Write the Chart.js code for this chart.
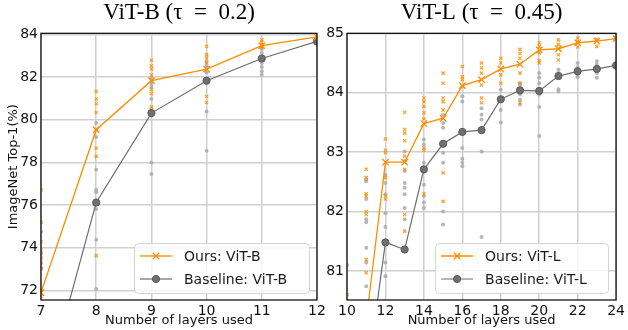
<!DOCTYPE html>
<html>
<head>
<meta charset="utf-8">
<script src="https://cdn.jsdelivr.net/npm/chart.js@4.4.1/dist/chart.umd.min.js"></script>
<style>
  html, body { margin: 0; padding: 0; background: #fff; }
  #wrap { position: relative; width: 628px; height: 330px; }
  #wrap canvas { position: absolute; left: 0; top: 0; }
</style>
</head>
<body>
<div id="wrap">
  <canvas id="chart-b" width="628" height="330"></canvas>
  <canvas id="chart-l" width="628" height="330"></canvas>
</div>
<script>
// ViT-B, tau = 0.2
const layersB = [7, 8, 9, 10, 11, 12];
const oursB = [71.9, 79.53, 81.83, 82.37, 83.47, 83.88];
const baseB = [66.6, 76.12, 80.31, 81.83, 82.87, 83.67];
const runLayersB = [7, 8, 9, 10, 11, 12];
const oursRunsB = [
  [76.72, 75.19, 74.28, 73.87, 73.5, 73.03, 72.03, 71.72],
  [81.33, 80.97, 80.75, 80.34, 78.66, 78.28, 73.63],
  [82.79, 82.53, 82.38, 82.11, 81.41, 81.22, 80.6, 80.47],
  [83.44, 83.05, 82.89, 82.66, 81.09, 80.81],
  [83.75, 83.63, 83.52, 83.41],
  [83.9],
];
const baseRunsB = [
  [74.75, 73.72, 73.28, 73.03],
  [79.85, 79.53, 79.19, 77.66, 76.72, 76.6, 75.81, 74.37, 72.06],
  [81.96, 81.72, 81.56, 80.97, 80.22, 78.0, 77.45],
  [82.73, 82.5, 82.22, 81.72, 80.39, 78.55],
  [83.32, 83.13, 82.66, 82.47, 82.27, 82.11],
  [83.67],
];
const xTicksB = [7, 8, 9, 10, 11, 12];
const yTicksB = [72, 74, 76, 78, 80, 82, 84];

// ViT-L, tau = 0.45
const layersL = [11, 12, 13, 14, 15, 16, 17, 18, 19, 20, 21, 22, 23, 24];
const oursL = [80.16, 82.83, 82.83, 83.48, 83.57, 84.12, 84.22, 84.4, 84.48, 84.72, 84.74, 84.84, 84.87, 84.91];
const baseL = [79.1, 81.48, 81.36, 82.71, 83.14, 83.34, 83.37, 83.89, 84.04, 84.03, 84.28, 84.36, 84.4, 84.46];
const runLayersL = [10, 11, 12, 13, 14, 15, 16, 17, 18, 19, 20, 21, 22, 23, 24];
const oursRunsL = [
  [80.6],
  [82.71, 82.57, 82.3, 82.26, 82.0, 81.95, 81.19, 80.97],
  [83.22, 83.03, 82.99, 82.57, 82.26, 82.21],
  [83.67, 83.38, 83.32, 83.19, 82.93, 82.71, 81.95, 81.67],
  [83.91, 83.85, 83.77, 83.66, 83.56, 83.07, 83.03, 82.3],
  [84.33, 84.16, 83.91, 83.85, 83.71, 82.65, 82.17],
  [84.44, 84.27, 84.22, 84.11],
  [84.5, 84.42, 84.33, 84.13, 83.91, 83.83],
  [84.58, 84.5, 84.3, 84.16],
  [84.73, 84.66, 84.58, 84.33, 84.16, 83.83],
  [84.84, 84.78, 84.67, 84.54, 84.5],
  [84.89, 84.81, 84.64, 84.55],
  [84.92, 84.86, 84.77],
  [84.9, 84.78],
  [84.93],
];
const baseRunsL = [
  [81.1],
  [82.54, 82.51, 82.21, 81.87, 81.82, 81.39, 81.14, 80.74],
  [82.62, 82.48, 82.29, 81.97, 81.74, 81.14, 80.91],
  [83.01, 82.85, 82.68, 82.48, 82.4, 82.29, 82.06, 81.87],
  [83.21, 83.13, 82.82, 82.45, 82.26, 82.15, 82.06],
  [83.63, 83.49, 83.41, 82.99, 82.82, 82.0, 81.78],
  [83.94, 83.85, 83.07, 82.89, 82.82, 82.76],
  [83.74, 83.63, 83.55, 83.01, 81.57],
  [84.05, 83.71, 83.5],
  [84.16, 84.13, 83.97, 83.88, 83.8],
  [84.33, 84.25, 84.16, 83.97, 83.76, 83.27],
  [84.39, 84.33, 84.06, 84.02],
  [84.5, 84.43, 84.3, 84.26],
  [84.53, 84.47, 84.33, 84.25],
  [84.46],
];
const xTicksL = [10, 12, 14, 16, 18, 20, 22, 24];
const yTicksL = [81, 82, 83, 84, 85];

const ORANGE = "#ff8c00";
const GREY = "#6e6e6e";
const GRID = "#d0d0d0";
const SANS = "DejaVu Sans";

const pts = (xs, ys) => xs.map((x, i) => ({ x, y: ys[i] }));
const runPts = (xs, runs) => xs.flatMap((x, i) => runs[i].map((y) => ({ x, y })));

// black box round the axes
const framePlugin = {
  id: "frame",
  afterDatasetsDraw(chart) {
    const { ctx, chartArea: a } = chart;
    ctx.save();
    ctx.strokeStyle = "#000";
    ctx.lineWidth = 1.2;
    ctx.strokeRect(a.left, a.top, a.right - a.left, a.bottom - a.top);
    ctx.restore();
  },
};

// legend in the lower right corner of the axes
const boxLegend = {
  id: "boxLegend",
  afterDraw(chart, args, opts) {
    const { ctx, chartArea: a } = chart;
    const w = opts.width;
    const h = 50;
    const x = a.right - 8 - w;
    const y = a.bottom - 7 - h;
    ctx.save();
    ctx.fillStyle = "rgba(255,255,255,0.8)";
    ctx.strokeStyle = "#d4d4d4";
    ctx.lineWidth = 1;
    ctx.beginPath();
    ctx.roundRect(x + 0.5, y + 0.5, w, h, 4);
    ctx.fill();
    ctx.stroke();

    chart.data.datasets
      .filter((d) => d.type === "line")
      .forEach((d, i) => {
        const ly = y + 13 + i * 23;
        ctx.strokeStyle = d.borderColor;
        ctx.lineWidth = d.borderWidth;
        ctx.beginPath();
        ctx.moveTo(x + 6, ly);
        ctx.lineTo(x + 38, ly);
        ctx.stroke();
        ctx.fillStyle = d.pointBackgroundColor;
        ctx.strokeStyle = d.pointBorderColor;
        ctx.lineWidth = d.pointBorderWidth;
        Chart.helpers.drawPoint(
          ctx,
          { pointStyle: d.pointStyle, radius: d.pointRadius, borderWidth: d.pointBorderWidth, rotation: 0 },
          x + 22,
          ly
        );
        ctx.fillStyle = "#1a1a1a";
        ctx.font = `14px "${SANS}"`;
        ctx.textBaseline = "middle";
        ctx.fillText(d.label, x + 50, ly + 1);
      });
    ctx.restore();
  },
};

function buildChart(canvasId, p) {
  const canvas = document.getElementById(canvasId);
  return new Chart(canvas, {
    data: {
      datasets: [
        {
          type: "line",
          label: p.oursLabel,
          data: pts(p.layers, p.ours),
          borderColor: ORANGE,
          borderWidth: 1.3,
          pointStyle: "crossRot",
          pointRadius: 4.5,
          pointBorderWidth: 1.3,
          pointBorderColor: ORANGE,
          pointBackgroundColor: ORANGE,
          fill: false,
          order: 0,
          clip: 0,
        },
        {
          type: "line",
          label: p.baseLabel,
          data: pts(p.layers, p.base),
          borderColor: GREY,
          borderWidth: 1.2,
          pointStyle: "circle",
          pointRadius: 3.6,
          pointBorderWidth: 1,
          pointBorderColor: "#585858",
          pointBackgroundColor: "#707070",
          fill: false,
          order: 1,
          clip: 0,
        },
        {
          type: "scatter",
          data: runPts(p.runLayers, p.oursRuns),
          pointStyle: "crossRot",
          pointRadius: 2.3,
          borderWidth: 1.2,
          borderColor: "rgba(255,140,0,0.85)",
          order: 2,
          clip: 0,
        },
        {
          type: "scatter",
          data: runPts(p.runLayers, p.baseRuns),
          pointStyle: "circle",
          pointRadius: 2,
          borderWidth: 0,
          backgroundColor: "rgba(170,170,170,0.85)",
          order: 3,
          clip: 0,
        },
      ],
    },
    plugins: [framePlugin, boxLegend],
    options: {
      responsive: false,
      animation: false,
      layout: { padding: p.padding },
      plugins: {
        legend: { display: false },
        tooltip: { enabled: false },
        boxLegend: { width: p.legendWidth },
        title: {
          display: true,
          text: p.title,
          fullSize: false,
          color: "#000",
          font: { family: "Liberation Serif", size: 23, weight: "normal", lineHeight: 1.1 },
          padding: { top: 0, bottom: 8 },
        },
      },
      scales: {
        x: {
          type: "linear",
          min: p.xMin,
          max: p.xMax,
          afterBuildTicks: (s) => { s.ticks = p.xTicks.map((v) => ({ value: v })); },
          afterFit: (s) => { s.height = 30; },
          grid: { color: GRID, lineWidth: 1.5, drawTicks: false },
          border: { display: false },
          ticks: { color: "#111", font: { family: SANS, size: 14 }, padding: 3, maxRotation: 0, autoSkip: false },
          title: {
            display: true,
            text: "Number of layers used",
            color: "#111",
            font: { family: SANS, size: 13 },
            padding: { top: 0, bottom: 2 },
          },
        },
        y: {
          type: "linear",
          min: p.yMin,
          max: p.yMax,
          afterBuildTicks: (s) => { s.ticks = p.yTicks.map((v) => ({ value: v })); },
          afterFit: (s) => { s.width = p.yWidth; },
          grid: { color: GRID, lineWidth: 1.5, drawTicks: false },
          border: { display: false },
          ticks: { color: "#111", font: { family: SANS, size: 14 }, padding: 3 },
          title: {
            display: p.yTitle !== "",
            text: p.yTitle,
            color: "#111",
            font: { family: SANS, size: 13 },
            padding: { top: 6, bottom: 0 },
          },
        },
      },
    },
  });
}

buildChart("chart-b", {
  title: "ViT-B (τ\u2002=\u20020.2)",
  oursLabel: "Ours: ViT-B",
  baseLabel: "Baseline: ViT-B",
  layers: layersB, ours: oursB, base: baseB,
  runLayers: runLayersB, oursRuns: oursRunsB, baseRuns: baseRunsB,
  xMin: 7, xMax: 12, xTicks: xTicksB,
  yMin: 71.55, yMax: 84.05, yTicks: yTicksB,
  yTitle: "ImageNet Top-1(%)",
  yWidth: 41,
  padding: { left: 0, right: 311, top: 0, bottom: 0 },
  legendWidth: 175,
});

buildChart("chart-l", {
  title: "ViT-L (τ\u2002=\u20020.45)",
  oursLabel: "Ours: ViT-L",
  baseLabel: "Baseline: ViT-L",
  layers: layersL, ours: oursL, base: baseL,
  runLayers: runLayersL, oursRuns: oursRunsL, baseRuns: baseRunsL,
  xMin: 10, xMax: 24, xTicks: xTicksL,
  yMin: 80.51, yMax: 85.0, yTicks: yTicksL,
  yTitle: "",
  yWidth: 25,
  padding: { left: 322, right: 7, top: 0, bottom: 0 },
  legendWidth: 173,
});
</script>
</body>
</html>
